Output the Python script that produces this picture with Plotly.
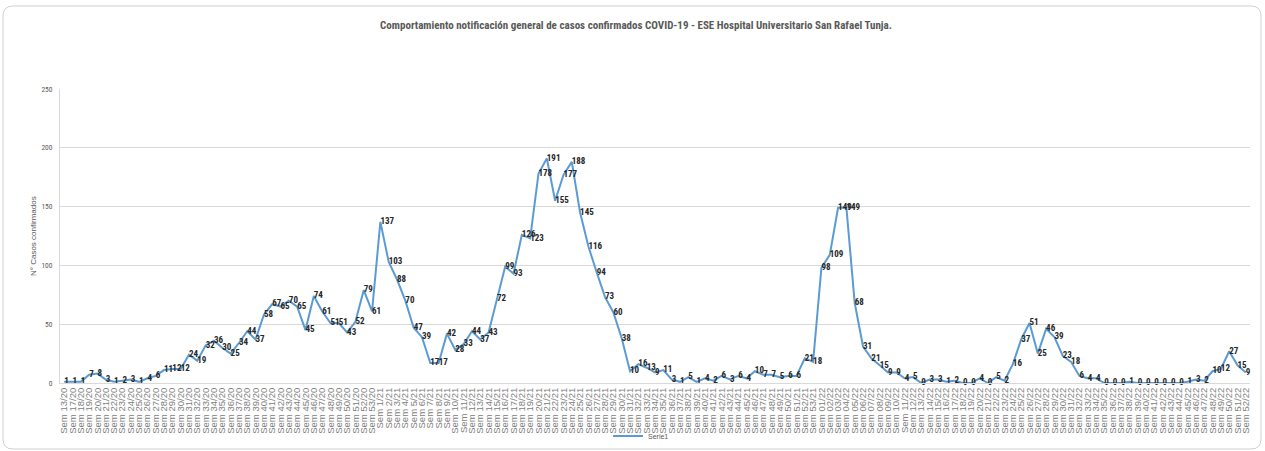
import plotly.graph_objects as go

# ---- data ----
weeks_2020 = [13] + list(range(17, 54))
weeks_2021 = list(range(1, 54))
weeks_2022 = list(range(1, 53))

labels_2020 = [f"Sem {w}/20" for w in weeks_2020]
labels_2021 = [f"Sem {w}/21" for w in weeks_2021]
labels_2022 = [f"Sem {w:02d}/22" for w in weeks_2022]

cases_2020 = [1, 1, 1, 7, 8, 3, 1, 2, 3, 1, 4, 6, 11, 12, 12, 24, 19, 32, 36, 30,
              25, 34, 44, 37, 58, 67, 65, 70, 65, 45, 74, 61, 51, 51, 43, 52, 79, 61]
cases_2021 = [137, 103, 88, 70, 47, 39, 17, 17, 42, 28, 33, 44, 37, 43, 72, 99, 93, 126, 123, 178,
              191, 155, 177, 188, 145, 116, 94, 73, 60, 38, 10, 16, 13, 9, 11, 3, 1, 5, 1, 4,
              2, 6, 3, 6, 4, 10, 7, 7, 5, 6, 6, 21, 18]
cases_2022 = [98, 109, 149, 149, 68, 31, 21, 15, 9, 9, 4, 5, 0, 3, 3, 1, 2, 0, 0, 4,
              0, 5, 2, 16, 37, 51, 25, 46, 39, 23, 18, 6, 4, 4, 0, 0, 0, 1, 0, 0,
              0, 0, 0, 0, 1, 3, 2, 10, 12, 27, 15, 9]

categories = labels_2020 + labels_2021 + labels_2022
values = cases_2020 + cases_2021 + cases_2022

title_text = "Comportamiento notificación general de casos confirmados COVID-19 - ESE Hospital Universitario San Rafael Tunja."
y_title = "N° Casos confirmados"
series_name = "Serie1"
y_ticks = [0, 50, 100, 150, 200, 250]

# ---- layout geometry (pixels) ----
W, H = 1265, 451
L, R, T, B = 60, 15, 89, 68
PW, PH = W - L - R, H - T - B


def px(x):
    return (x - L) / PW


def py(y):
    return (H - B - y) / PH


NARROW = "Liberation Sans Narrow, Arial Narrow, Roboto Condensed, DejaVu Sans Condensed, sans-serif"

fig = go.Figure()
fig.add_trace(go.Scatter(
    x=categories, y=values, name=series_name,
    mode="lines+text",
    line=dict(color="#5B9BD5", width=2),
    text=[str(v) for v in values],
    textposition="middle right",
    textfont=dict(family=NARROW, size=9, color="#262626", weight="bold"),
    cliponaxis=False,
    hoverinfo="skip",
))

# outer rounded border
r = 10
x0, x1, y0, y1 = 3, 1261, 6, 449
path = (f"M {px(x0 + r)} {py(y0)} L {px(x1 - r)} {py(y0)} Q {px(x1)} {py(y0)} {px(x1)} {py(y0 + r)} "
        f"L {px(x1)} {py(y1 - r)} Q {px(x1)} {py(y1)} {px(x1 - r)} {py(y1)} "
        f"L {px(x0 + r)} {py(y1)} Q {px(x0)} {py(y1)} {px(x0)} {py(y1 - r)} "
        f"L {px(x0)} {py(y0 + r)} Q {px(x0)} {py(y0)} {px(x0 + r)} {py(y0)} Z")

fig.update_layout(
    width=W, height=H,
    margin=dict(l=L, r=R, t=T, b=B, autoexpand=False),
    paper_bgcolor="white", plot_bgcolor="white",
    title=dict(text=f"<b>{title_text}</b>", xref="container", x=636 / W, xanchor="center",
               yref="container", y=1 - 25 / H, yanchor="middle",
               font=dict(family=NARROW, size=11, color="#595959")),
    showlegend=True,
    legend=dict(orientation="h", x=px(608), y=py(436), xanchor="left", yanchor="middle",
                bgcolor="rgba(0,0,0,0)", font=dict(family="Liberation Sans Narrow, sans-serif", size=7, color="#595959"),
                itemwidth=30),
    xaxis=dict(type="category", tickmode="array", tickvals=categories, ticktext=categories,
               tickangle=-90, tickfont=dict(family="Liberation Sans, Arial, sans-serif", size=9.5, color="#808080"),
               showgrid=False, showline=True, linecolor="#D9D9D9", linewidth=1,
               range=[-0.5, len(categories) - 0.5], zeroline=False, ticks="", automargin=False),
    yaxis=dict(range=[0, 250], tickvals=y_ticks, showgrid=True, gridcolor="#D9D9D9", gridwidth=1,
               showline=True, linecolor="#D9D9D9", zeroline=False, automargin=False,
               tickfont=dict(family=NARROW, size=7.5, color="#595959"),
               ticklabelstandoff=5),
    shapes=[dict(type="path", path=path, xref="paper", yref="paper",
                 line=dict(color="#D0D0D0", width=1), fillcolor="rgba(0,0,0,0)", layer="below")],
    annotations=[dict(text=y_title, textangle=-90, xref="paper", yref="paper", x=px(33), y=py(236),
                      xanchor="center", yanchor="middle", showarrow=False,
                      font=dict(family="Liberation Sans, Arial, sans-serif", size=8, color="#595959"))],
)

fig.write_html("out.html", config={"displayModeBar": False},
               post_script="document.body.style.margin='0';document.body.style.overflow='hidden';")
